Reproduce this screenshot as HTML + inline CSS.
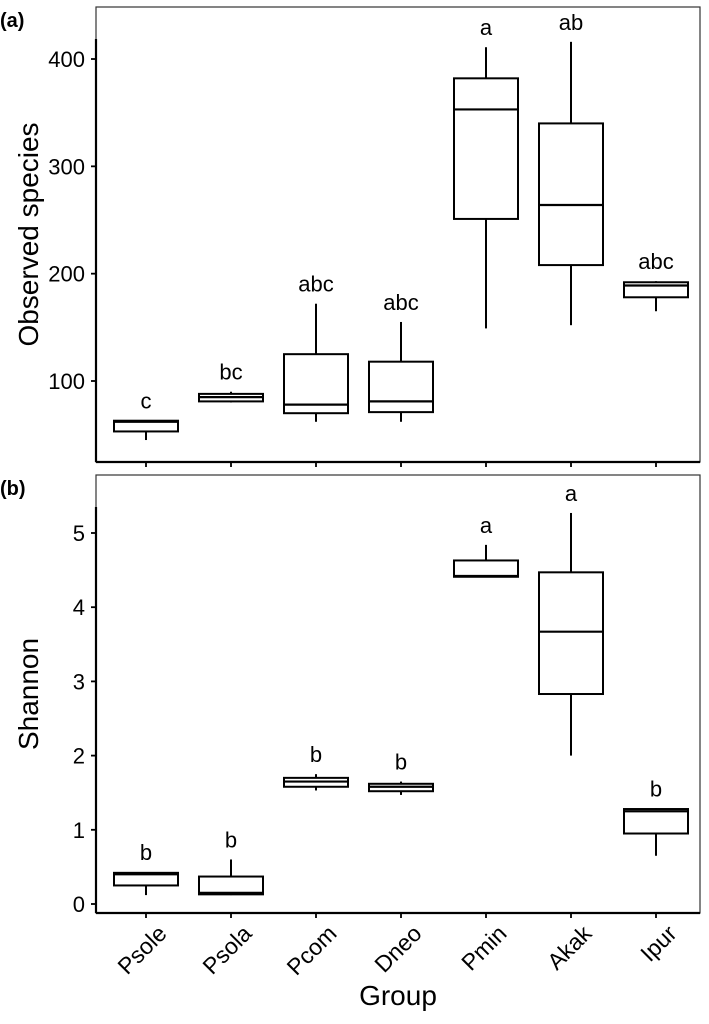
<!DOCTYPE html>
<html><head><meta charset="utf-8"><style>
body{margin:0;background:#fff;}
svg{display:block;font-family:"Liberation Sans",Arial,sans-serif;}
</style></head><body>
<svg id="chart" width="709" height="1024" viewBox="0 0 709 1024"></svg>
<script>
const groups=["Psole","Psola","Pcom","Dneo","Pmin","Akak","Ipur"];
// panel a: [min,q1,median,q3,max]
const obsMin=[45,80,62,62,149,152,165];
const obsQ1=[53,81,70,71,251,208,178];
const obsMed=[62,85,78,81,353,264,189];
const obsQ3=[63,88,125,118,382,340,192];
const obsMax=[63,90,172,155,411,416,193];
const obsLetters=["c","bc","abc","abc","a","ab","abc"];
const obsTicks=[100,200,300,400];
// panel b
const shMin=[0.12,0.12,1.53,1.47,4.41,2.0,0.65];
const shQ1=[0.25,0.13,1.58,1.52,4.41,2.83,0.95];
const shMed=[0.4,0.15,1.65,1.58,4.42,3.67,1.25];
const shQ3=[0.42,0.37,1.7,1.62,4.63,4.47,1.28];
const shMax=[0.43,0.6,1.75,1.65,4.84,5.27,1.29];
const shLetters=["b","b","b","b","a","a","b"];
const shTicks=[0,1,2,3,4,5];

const svg=document.getElementById('chart');
const NS="http://www.w3.org/2000/svg";
function mk(tag,attrs,parent){const e=document.createElementNS(NS,tag);for(const k in attrs)e.setAttribute(k,attrs[k]);(parent||svg).appendChild(e);return e;}
const xPos=i=>146+i*85;
const yA=v=>381-(v-100)*1.0733;
const yB=v=>904-v*74.2;

function panel(name,top,bottom,yf,mins,q1,med,q3,maxs,letters,ticks,title,label){
  const g=mk('g',{});
  
  
  const fr=mk('rect',{x:96,y:top,width:604,height:bottom-top,fill:'none',stroke:'#333','stroke-width':1.2},g);
  
  
  mk('line',{x1:96,y1:top+32,x2:96,y2:bottom,stroke:'#000','stroke-width':2.2},g);
  mk('line',{x1:96,y1:bottom,x2:700,y2:bottom,stroke:'#000','stroke-width':2.2},g);
  ticks.forEach(t=>{
    mk('line',{x1:91,x2:96,y1:yf(t),y2:yf(t),stroke:'#000','stroke-width':1.8},g);
    const tx=mk('text',{x:85,y:yf(t)+8,'text-anchor':'end','font-size':22},g);
    tx.textContent=t;
    
    
  });
  groups.forEach((gr,i)=>{
    const x=xPos(i);
    mk('line',{x1:x,x2:x,y1:bottom,y2:bottom+5,stroke:'#000','stroke-width':1.8},g);
    const b=mk('g',{},g);
    
    
    mk('line',{x1:x,x2:x,y1:yf(maxs[i]),y2:yf(q3[i]),stroke:'#000','stroke-width':2},b);
    mk('line',{x1:x,x2:x,y1:yf(mins[i]),y2:yf(q1[i]),stroke:'#000','stroke-width':2},b);
    mk('rect',{x:x-32,y:yf(q3[i]),width:64,height:Math.max(1,yf(q1[i])-yf(q3[i])),fill:'#fff',stroke:'#000','stroke-width':2},b);
    mk('line',{x1:x-32,x2:x+32,y1:yf(med[i]),y2:yf(med[i]),stroke:'#000','stroke-width':2.2},b);
    const lt=mk('text',{x:x,y:yf(maxs[i])-12,'text-anchor':'middle','font-size':22},g);
    lt.textContent=letters[i];
    
    
  });
  const yt=mk('text',{x:0,y:0,'text-anchor':'middle','font-size':28,transform:`translate(38,${(top+bottom)/2}) rotate(-90)`},g);
  yt.textContent=title;
  
  
  const pl=mk('text',{x:0,y:top+20,'font-size':20,'font-weight':'bold'},g);
  pl.textContent=label;
  
  
}
panel('panel-a-observed-species',7,462,yA,obsMin,obsQ1,obsMed,obsQ3,obsMax,obsLetters,obsTicks,'Observed species','(a)');
panel('panel-b-shannon',475,913,yB,shMin,shQ1,shMed,shQ3,shMax,shLetters,shTicks,'Shannon','(b)');
groups.forEach((gr,i)=>{
  const t=mk('text',{x:0,y:0,'text-anchor':'end','font-size':23,transform:`translate(${xPos(i)+22},${935}) rotate(-45)`});
  t.textContent=gr;
  
  
});
const xt=mk('text',{x:398,y:1005,'text-anchor':'middle','font-size':28});
xt.textContent='Group';


</script>
</body></html>
